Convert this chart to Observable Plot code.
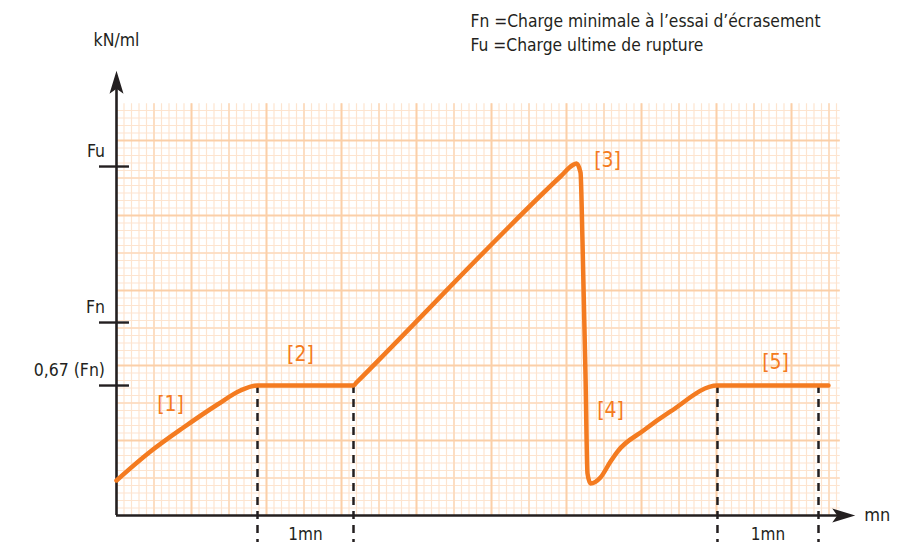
<!DOCTYPE html>
<html>
<head>
<meta charset="utf-8">
<script src="https://cdn.jsdelivr.net/npm/d3@7"></script>
<script src="https://cdn.jsdelivr.net/npm/@observablehq/plot@0.6"></script>
<style>
  html, body { margin: 0; padding: 0; background: #fff; overflow: hidden; }
  #chart svg { display: block; overflow: visible; }
</style>
</head>
<body>
<div id="chart"></div>
<script>
// ---- Data (graph-paper units: 1 unit = one major grid square) ----
const curveX = [0, 0.453, 0.893, 1.347, 1.653, 1.88, 3.16, 3.2, 5.92, 6.08, 6.133, 6.187, 6.213, 6.253, 6.28, 6.32, 6.453, 6.587, 6.68, 7.027, 7.387, 8.013, 9.493];
const curveY = [0.467, 0.853, 1.173, 1.48, 1.667, 1.733, 1.733, 1.773, 4.52, 4.67, 4.693, 4.573, 3.667, 1.893, 0.56, 0.427, 0.507, 0.72, 0.853, 1.133, 1.387, 1.733, 1.733];

const tickLabels = ["Fu", "Fn", "0,67 (Fn)"];
const tickValues = [4.653, 2.573, 1.733];

const phaseLabels = ["[1]", "[2]", "[3]", "[4]", "[5]"];
const phaseX = [0.72, 2.453, 6.547, 6.587, 8.787];
const phaseY = [1.48, 2.147, 4.733, 1.4, 2.04];

const dashX = [1.88, 3.16, 8.013, 9.36];
const durationLabels = ["1mn", "1mn"];
const durationX = [2.52, 8.687];

const legendLines = ["Fn =Charge minimale à l’essai d’écrasement", "Fu =Charge ultime de rupture"];
const yAxisLabel = "kN/ml";
const xAxisLabel = "mn";

// extents of the paper and axes
const paperW = 9.65, paperH = 5.49;
const yArrowTop = 5.93, xArrowEnd = 9.85;

// ---- build tables ----
const curve = curveX.map((x, i) => ({x, y: curveY[i]}));
const ticks = tickValues.map((v, i) => ({v, label: tickLabels[i]}));
const phases = phaseLabels.map((t, i) => ({t, x: phaseX[i], y: phaseY[i]}));
const durations = durationLabels.map((t, i) => ({t, x: durationX[i]}));

const minorX = d3.range(0, paperW + 1e-9, 0.1).map(v => +v.toFixed(2));
const minorY = d3.range(0, paperH + 1e-9, 0.1).map(v => +v.toFixed(2));
const midX = d3.range(0.5, paperW, 1);
const midY = d3.range(0.5, paperH, 1);
const majX = d3.range(1, paperW, 1);
const majY = d3.range(1, paperH, 1);

const ORANGE = "#f47b20";
const INK = "#231f20";
const FONT = "'DejaVu Sans Condensed', 'Liberation Sans Narrow', 'Roboto', sans-serif";

// filled, notched arrowhead pointing up (tip at origin)
const arrowHead = {
  draw(ctx) {
    ctx.moveTo(0, 0);
    ctx.lineTo(7, 23);
    ctx.lineTo(0, 18);
    ctx.lineTo(-7, 23);
    ctx.closePath();
  }
};

const chart = Plot.plot({
  width: 913,
  height: 542,
  marginTop: 0, marginRight: 0, marginBottom: 0, marginLeft: 0,
  style: {fontFamily: FONT, background: "#fff", overflow: "visible"},
  x: {type: "linear", domain: [0, 1], range: [116, 191], axis: null},
  y: {type: "linear", domain: [0, 1], range: [515, 440], axis: null},
  marks: [
    // graph paper
    Plot.ruleX(minorX, {x: d => d, y1: 0, y2: paperH, stroke: "#fde4cf", strokeWidth: 1.2}),
    Plot.ruleY(minorY, {y: d => d, x1: 0, x2: paperW, stroke: "#fde4cf", strokeWidth: 1.2}),
    Plot.ruleX(midX, {x: d => d, y1: 0, y2: paperH, stroke: "#fcdabc", strokeWidth: 1.6}),
    Plot.ruleY(midY, {y: d => d, x1: 0, x2: paperW, stroke: "#fcdabc", strokeWidth: 1.6}),
    Plot.ruleX(majX, {x: d => d, y1: 0, y2: paperH, stroke: "#fbcfa8", strokeWidth: 2}),
    Plot.ruleY(majY, {y: d => d, x1: 0, x2: paperW, stroke: "#fbcfa8", strokeWidth: 2}),
    // dashed time markers
    Plot.ruleX(dashX, {x: d => d, y1: 1.733, y2: -0.45, stroke: INK, strokeWidth: 2.5, strokeDasharray: "8,6"}),
    // axes
    Plot.ruleX([0], {y1: 0, y2: yArrowTop - 0.2, stroke: INK, strokeWidth: 2.6}),
    Plot.ruleY([0], {x1: 0, x2: xArrowEnd - 0.2, stroke: INK, strokeWidth: 2.6}),
    Plot.dot([0], {x: 0, y: yArrowTop, symbol: arrowHead, fill: INK, stroke: null, r: 5}),
    Plot.dot([0], {x: xArrowEnd, y: 0, symbol: arrowHead, fill: INK, stroke: null, r: 5, rotate: 90}),
    // y ticks
    Plot.ruleY(ticks, {y: "v", x1: -0.227, x2: 0.173, stroke: INK, strokeWidth: 2.4}),
    Plot.text(ticks, {x: -0.153, y: "v", text: "label", textAnchor: "end", dy: -15, fontSize: 17.5, fill: INK}),
    // curve
    Plot.line(curve, {x: "x", y: "y", stroke: ORANGE, strokeWidth: 4.5, curve: "monotone-x", strokeLinejoin: "round", strokeLinecap: "round"}),
    // phase labels
    Plot.text(phases, {x: "x", y: "y", text: "t", fill: ORANGE, fontSize: 21}),
    // duration labels
    Plot.text(durations, {x: "x", y: -0.25, text: "t", fill: INK, fontSize: 17}),
    // axis labels
    Plot.text([yAxisLabel], {x: 0, y: yArrowTop, text: d => d, dy: -30, fontSize: 17.5, fill: INK}),
    Plot.text([xAxisLabel], {x: xArrowEnd, y: 0, text: d => d, dx: 9, textAnchor: "start", fontSize: 18, fill: INK}),
    // legend
    Plot.text([legendLines.join("\n")], {frameAnchor: "top-left", text: d => d, dx: 470, dy: 10, textAnchor: "start", lineAnchor: "top", lineHeight: 1.37, fontSize: 17.3, fill: INK})
  ]
});

document.getElementById("chart").appendChild(chart);
</script>
</body>
</html>
